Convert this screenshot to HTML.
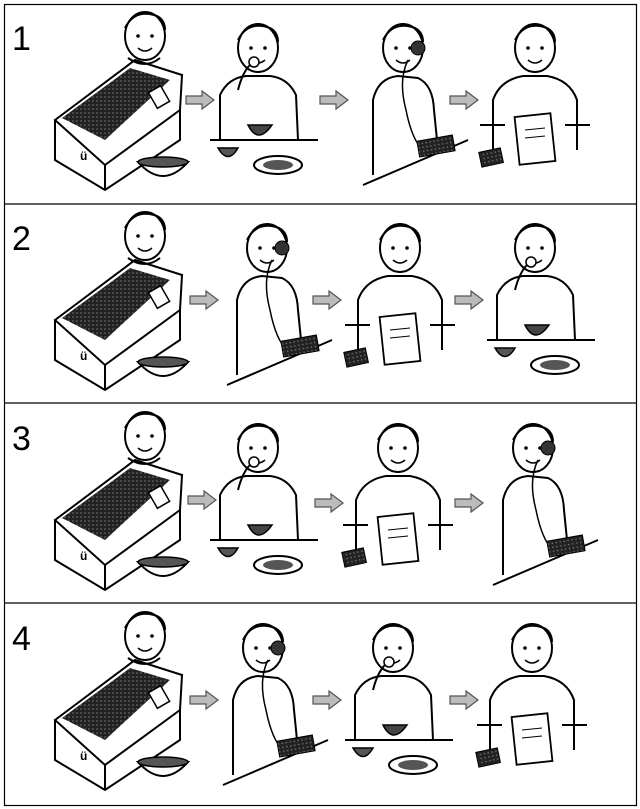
<!DOCTYPE html>
<html><head><meta charset="utf-8"><style>
html,body{margin:0;padding:0;background:#fff;width:640px;height:809px;overflow:hidden}
svg text{font-family:"Liberation Sans",sans-serif}
</style></head><body>
<svg width="640" height="809" viewBox="0 0 640 809" xmlns="http://www.w3.org/2000/svg">
<defs>
<pattern id="dk" width="4" height="4" patternUnits="userSpaceOnUse"><rect width="4" height="4" fill="#222"/><circle cx="1" cy="1" r="0.8" fill="#777"/></pattern>
<g id="head">
 <ellipse cx="0" cy="48" rx="20" ry="24" fill="#fff" stroke="#000" stroke-width="2"/>
 <path d="M-20 40 Q-10 20 12 28 Q20 32 20 42" fill="none" stroke="#000" stroke-width="2"/>
 <circle cx="-7" cy="48" r="1.8"/><circle cx="7" cy="48" r="1.8"/>
 <path d="M-7 60 Q0 66 7 60" fill="none" stroke="#000" stroke-width="1.5"/>
</g>
<g id="tub">
 <polygon points="55,120 135,60 182,75 180,110 105,165" fill="#fff" stroke="#000" stroke-width="2"/>
 <polygon points="62,118 130,68 170,80 105,140" fill="url(#dk)"/>
 <path d="M55 120 L55 160 L105 190 L180 140 L180 110" fill="none" stroke="#000" stroke-width="2"/>
 <path d="M105 165 L105 190" stroke="#000" stroke-width="2"/>
 <rect x="152" y="88" width="14" height="18" fill="#fff" stroke="#000" stroke-width="1.5" transform="rotate(-30 159 97)"/>
 <text x="80" y="160" font-size="12" font-weight="bold">ü</text>
 <use href="#head" x="145" y="-12"/>
 <path d="M128 58 Q145 70 160 58" fill="none" stroke="#000" stroke-width="2"/>
 <path d="M138 162 Q163 190 188 162 Z" fill="#fff" stroke="#000" stroke-width="2"/>
 <ellipse cx="163" cy="162" rx="25" ry="5" fill="#555" stroke="#000" stroke-width="1.5"/>
</g>
<g id="arrow"><polygon points="0,-4 16,-4 16,-9 28,0 16,9 16,4 0,4" fill="#bbb" stroke="#555" stroke-width="1.2"/></g>
<g id="eat">
 <use href="#head" x="0" y="0"/>
 <path d="M-38 140 L-38 95 Q-30 78 -12 76 L12 76 Q30 78 38 95 L40 140" fill="#fff" stroke="#000" stroke-width="2"/>
 <path d="M-20 90 Q-15 70 -5 62" fill="none" stroke="#000" stroke-width="2"/>
 <circle cx="-4" cy="62" r="5" fill="#fff" stroke="#000" stroke-width="1.5"/>
 <path d="M-48 140 L60 140" stroke="#000" stroke-width="2"/>
 <path d="M-10 125 Q0 145 14 125 Z" fill="#444" stroke="#000" stroke-width="1.5"/>
 <path d="M-40 148 Q-30 165 -20 148 Z" fill="#555" stroke="#000" stroke-width="1.5"/>
 <ellipse cx="20" cy="165" rx="24" ry="9" fill="#fff" stroke="#000" stroke-width="2"/>
 <ellipse cx="20" cy="165" rx="15" ry="5" fill="#555"/>
</g>
<g id="phone">
 <use href="#head" x="5" y="0"/>
 <path d="M-25 175 L-25 100 Q-20 78 0 76 L20 78 Q35 85 36 110 L40 150" fill="#fff" stroke="#000" stroke-width="2"/>
 <circle cx="20" cy="48" r="7" fill="#333" stroke="#000"/>
 <path d="M10 60 Q0 80 8 110 Q14 140 25 150" fill="none" stroke="#000" stroke-width="1.5"/>
 <path d="M-35 185 L70 140" stroke="#000" stroke-width="2"/>
 <rect x="20" y="138" width="36" height="16" fill="url(#dk)" stroke="#000" transform="rotate(-10 38 146)"/>
</g>
<g id="write">
 <use href="#head" x="0" y="0"/>
 <path d="M-42 150 L-42 100 Q-35 80 -12 76 L12 76 Q35 80 42 100 L42 150" fill="#fff" stroke="#000" stroke-width="2"/>
 <path d="M-55 125 L-30 125 M30 125 L55 125" stroke="#000" stroke-width="2"/>
 <rect x="-18" y="115" width="36" height="48" fill="#fff" stroke="#000" stroke-width="1.8" transform="rotate(-6 0 139)"/>
 <path d="M-10 130 L10 128 M-10 138 L10 136" stroke="#000"/>
 <rect x="-55" y="150" width="22" height="15" fill="url(#dk)" stroke="#000" transform="rotate(-12 -44 157)"/>
</g>
</defs>
<rect x="4.5" y="4.5" width="632" height="801" fill="none" stroke="#000" stroke-width="1.2"/>
<line x1="4" y1="204" x2="637" y2="204" stroke="#000" stroke-width="1.3"/>
<line x1="4" y1="403" x2="637" y2="403" stroke="#000" stroke-width="1.3"/>
<line x1="4" y1="603" x2="637" y2="603" stroke="#000" stroke-width="1.3"/>
<text x="12" y="50" font-size="34">1</text>
<text x="12" y="250" font-size="34">2</text>
<text x="12" y="450" font-size="34">3</text>
<text x="12" y="650" font-size="34">4</text>
<g transform="translate(0,0)">
 <use href="#tub"/>
 <use href="#arrow" x="186" y="100"/><use href="#eat" x="258" y="0"/>
 <use href="#arrow" x="320" y="100"/><use href="#phone" x="398" y="0"/>
 <use href="#arrow" x="450" y="100"/><use href="#write" x="535" y="0"/>
</g>
<g transform="translate(0,200)">
 <use href="#tub"/>
 <use href="#arrow" x="190" y="100"/><use href="#phone" x="262" y="0"/>
 <use href="#arrow" x="313" y="100"/><use href="#write" x="400" y="0"/>
 <use href="#arrow" x="455" y="100"/><use href="#eat" x="535" y="0"/>
</g>
<g transform="translate(0,400)">
 <use href="#tub"/>
 <use href="#arrow" x="188" y="100"/><use href="#eat" x="258" y="0"/>
 <use href="#arrow" x="315" y="103"/><use href="#write" x="398" y="0"/>
 <use href="#arrow" x="455" y="103"/><use href="#phone" x="528" y="0"/>
</g>
<g transform="translate(0,600)">
 <use href="#tub"/>
 <use href="#arrow" x="190" y="100"/><use href="#phone" x="258" y="0"/>
 <use href="#arrow" x="313" y="100"/><use href="#eat" x="393" y="0"/>
 <use href="#arrow" x="450" y="100"/><use href="#write" x="532" y="0"/>
</g>
</svg>
</body></html>
